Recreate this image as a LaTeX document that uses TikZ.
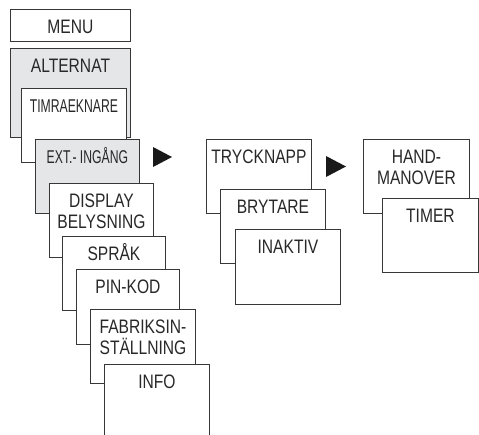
\documentclass[tikz,border=0pt]{standalone}
\usepackage{fontspec}
\setmainfont{Liberation Sans}[FakeStretch=0.8]
\newfontfamily\narrowfont{Liberation Sans}[FakeStretch=0.66]
\usepackage{tikz}
\definecolor{linegray}{RGB}{55,55,55}
\definecolor{boxgray}{RGB}{229,230,232}
\definecolor{txtgray}{RGB}{40,40,40}
\definecolor{tipblack}{RGB}{25,25,25}

\begin{document}
\begin{tikzpicture}[x=1pt, y=-1pt,
                    box/.style={rectangle, draw=linegray, fill=white, line width=0.9pt, inner sep=0pt,
                                anchor=north west, minimum width=105pt, minimum height=74pt},
                    graybox/.style={box, fill=boxgray},
                    lbl/.style={anchor=north, inner sep=0pt, yshift=-10pt, text height=14.5pt, align=center,
                                text=txtgray, font=\fontsize{19.5}{21}\selectfont},
                    twolbl/.style={lbl, yshift=-21pt},
                    narrowlbl/.style={lbl, font=\narrowfont\fontsize{18.5}{21}\selectfont}]
    \clip (0,0) rectangle (479,434);

    % Main menu column
    \node [box, minimum width=120pt, minimum height=32pt, label={[lbl]north:MENU}] (menu) at (10,9) {};
    \node [graybox, minimum width=120pt, minimum height=89pt, label={[lbl]north:ALTERNAT}] (alternat) at (10,48) {};
    \node [box, label={[narrowlbl]north:TIMRAEKNARE}] (timraeknare) at (21,88) {};
    \node [graybox, minimum width=104pt, label={[narrowlbl]north:EXT.- INGÅNG}] (ext_in) at (35,139) {};
    \node [box, minimum width=104pt, label={[twolbl]north:DISPLAY\\BELYSNING}] (display) at (49,183) {};
    \node [box, minimum width=103pt, label={[lbl]north:SPRÅK}] (sprak) at (62,236) {};
    \node [box, minimum width=103pt, minimum height=75pt, label={[lbl]north:PIN-KOD}] (pin_kod) at (76,269) {};
    \node [box, label={[twolbl]north:FABRIKSIN-\\STÄLLNING}] (fabrik) at (90,309) {};
    \node [box, minimum height=90pt, label={[lbl]north:INFO}] (info) at (104,364) {};

    % Input choices
    \node [box, label={[lbl]north:TRYCKNAPP}] (tryck) at (206,139) {};
    \node [box, label={[lbl]north:BRYTARE}] (brytare) at (220,189) {};
    \node [box, minimum height=75pt, label={[lbl]north:INAKTIV}] (inaktiv) at (235,229) {};

    % Push button modes
    \node [box, minimum width=106pt, label={[twolbl]north:HAND-\\MANOVER}] (hand) at (363,139) {};
    \node [box, minimum width=96pt, label={[lbl]north:TIMER}] (timer) at (382,198) {};

    % Draw the navigation arrows
    \coordinate (nav_a) at (153,147);
    \coordinate (nav_b) at (326,156);
    \fill [tipblack] (nav_a) -- ++(0,20) -- ++(19,-10) -- cycle;
    \fill [tipblack] (nav_b) -- ++(0,21) -- ++(20,-10.5) -- cycle;
\end{tikzpicture}
\end{document}
